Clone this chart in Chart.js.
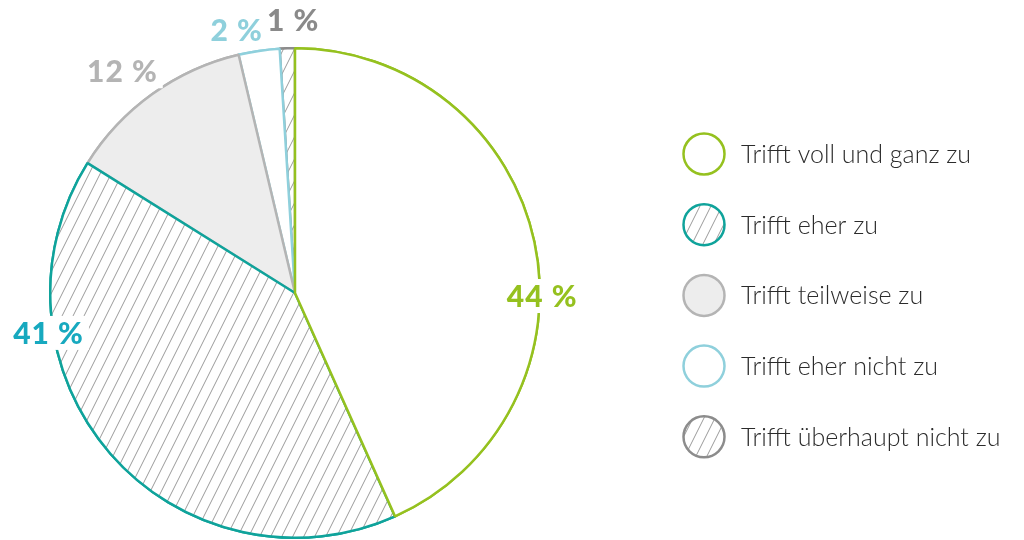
<!DOCTYPE html>
<html lang="de">
<head>
<meta charset="utf-8">
<title>Zustimmung</title>
<script src="https://cdn.jsdelivr.net/npm/chart.js@4.4.1/dist/chart.umd.min.js"></script>
<style>
    html, body { margin: 0; padding: 0; background: #fff; }
    #wrap { width: 1024px; height: 540px; position: relative; }
</style>
</head>
<body>
<div id="wrap"><canvas id="tortenChart" width="1024" height="540"></canvas></div>
<script>
// Daten
const kategorien = ['Trifft voll und ganz zu', 'Trifft eher zu', 'Trifft teilweise zu', 'Trifft eher nicht zu', 'Trifft überhaupt nicht zu'];
const anteile = [43.3, 40.6, 12.4, 2.7, 1.0];
const beschriftungen = ['44 %', '41 %', '12 %', '2 %', '1 %'];

// Farben
const randFarben = ['#95c11f', '#0fa39b', '#b4b4b4', '#8fd0dc', '#8c8c8c'];
const textFarben = ['#95c11f', '#17a9bf', '#b4b4b4', '#8fd0dc', '#8a8a8a'];
const schraffiert = [false, true, false, false, true];
const flaechen = ['#ffffff', null, '#ededed', '#ffffff', null];

// Lage der Prozentwerte (Winkel im Uhrzeigersinn ab 12 Uhr, Abstand relativ zum Radius)
const etikettWinkel = [90.7, 260.8, 322.1, 347.5, 359.6];
const etikettAbstand = [1.01, 1.02, 1.148, 1.10, 1.115];

function schraffur() {
    const c = document.createElement('canvas');
    c.width = 11;
    c.height = 22;
    const x = c.getContext('2d');
    x.fillStyle = '#ffffff';
    x.fillRect(0, 0, 11, 22);
    x.strokeStyle = '#9a9a9a';
    x.lineWidth = 1;
    for (let k = -1; k <= 1; k++) {
        x.beginPath();
        x.moveTo(k * 11, 22);
        x.lineTo((k + 1) * 11, 0);
        x.stroke();
    }
    return x.createPattern(c, 'repeat');
}

const muster = schraffur();
const fuellungen = flaechen.map((f, i) => schraffiert[i] ? muster : f);

// Ränder in umgekehrter Reihenfolge neu zeichnen (vorderes Segment liegt oben)
const umgekehrtZeichnen = {
    id: 'umgekehrtZeichnen',
    afterDatasetsDraw(chart) {
        const arcs = chart.getDatasetMeta(0).data;
        for (let i = arcs.length - 1; i >= 0; i--) {
            arcs[i].draw(chart.ctx);
        }
    }
};

const prozentWerte = {
    id: 'prozentWerte',
    afterDatasetsDraw(chart) {
        const ctx = chart.ctx;
        const arc = chart.getDatasetMeta(0).data[0];
        const r = arc.outerRadius;
        ctx.save();
        ctx.font = '900 30px Lato';
        ctx.letterSpacing = '1px';
        ctx.textAlign = 'center';
        ctx.textBaseline = 'middle';
        beschriftungen.forEach((t, i) => {
            const w = etikettWinkel[i] * Math.PI / 180;
            const x = arc.x + r * etikettAbstand[i] * Math.sin(w);
            const y = arc.y - r * etikettAbstand[i] * Math.cos(w);
            const breite = ctx.measureText(t).width;
            ctx.fillStyle = '#ffffff';
            ctx.fillRect(x - breite / 2 - 5, y - 17, breite + 10, 34);
            ctx.fillStyle = textFarben[i];
            ctx.fillText(t, x, y + 1);
        });
        ctx.restore();
    }
};

const legendeRechts = {
    id: 'legendeRechts',
    afterDraw(chart) {
        const ctx = chart.ctx;
        const ds = chart.data.datasets[0];
        ctx.save();
        chart.data.labels.forEach((label, i) => {
            const cx = 704;
            const cy = 154 + i * 70.7;
            ctx.beginPath();
            ctx.arc(cx, cy, 20.5, 0, Math.PI * 2);
            ctx.fillStyle = ds.backgroundColor[i];
            ctx.fill();
            ctx.lineWidth = 2.5;
            ctx.strokeStyle = ds.borderColor[i];
            ctx.stroke();
            ctx.font = '300 25px Lato';
            ctx.fillStyle = '#2b2b2b';
            ctx.textAlign = 'left';
            ctx.textBaseline = 'alphabetic';
            ctx.fillText(label, 741, cy + 9);
        });
        ctx.restore();
    }
};

const ctx = document.getElementById('tortenChart').getContext('2d');
const tortenChart = new Chart(ctx, {
    type: 'pie',
    data: {
        labels: kategorien,
        datasets: [{
            data: anteile,
            backgroundColor: fuellungen,
            borderColor: randFarben,
            borderWidth: 2.5
        }]
    },
    options: {
        responsive: false,
        animation: false,
        layout: {
            padding: { left: 48, top: 47, right: 482, bottom: 1 }
        },
        plugins: {
            legend: { display: false },
            tooltip: { enabled: false }
        }
    },
    plugins: [umgekehrtZeichnen, prozentWerte, legendeRechts]
});
</script>
</body>
</html>
